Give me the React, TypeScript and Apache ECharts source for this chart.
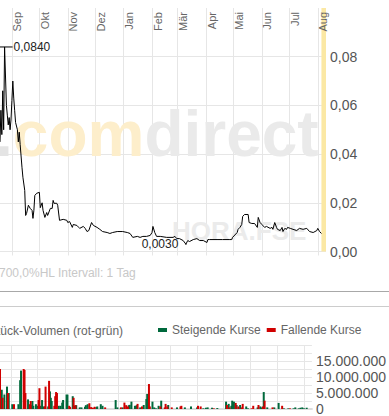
import React, { useEffect, useRef } from "react";
import * as echarts from "echarts";

// ---- axis categories (calendar days) ----
const startDay = "2022-08-19";
const endDay = "2023-08-10";
const monthNames = ["Jan", "Feb", "Mär", "Apr", "Mai", "Jun", "Jul", "Aug", "Sep", "Okt", "Nov", "Dez"];

// ---- price (EUR) ----
const priceDates = [
  "2022-08-19","2022-08-20","2022-08-21","2022-08-22","2022-08-23","2022-08-24","2022-08-26","2022-08-27","2022-08-28","2022-08-29",
  "2022-08-30","2022-08-31","2022-09-01","2022-09-02","2022-09-03","2022-09-04","2022-09-05","2022-09-07","2022-09-08","2022-09-09",
  "2022-09-10","2022-09-12","2022-09-13","2022-09-15","2022-09-16","2022-09-17","2022-09-19","2022-09-21","2022-09-23","2022-09-24",
  "2022-09-25","2022-09-26","2022-09-28","2022-10-01","2022-10-02","2022-10-04","2022-10-05","2022-10-07","2022-10-09","2022-10-10",
  "2022-10-13","2022-10-15","2022-10-16","2022-10-17","2022-10-20","2022-10-21","2022-10-23","2022-10-27","2022-10-31","2022-11-01",
  "2022-11-03","2022-11-06","2022-11-07","2022-11-11","2022-11-13","2022-11-14","2022-11-18","2022-11-20","2022-11-22","2022-11-24",
  "2022-11-27","2022-11-29","2022-12-03","2022-12-06","2022-12-09","2022-12-14","2022-12-17","2022-12-20","2022-12-25","2022-12-31",
  "2023-01-05","2023-01-08","2023-01-11","2023-01-16","2023-01-19","2023-01-22","2023-01-26","2023-01-30","2023-02-01","2023-02-02",
  "2023-02-04","2023-02-06","2023-02-10","2023-02-17","2023-02-24","2023-02-26","2023-02-28","2023-03-03","2023-03-07","2023-03-10",
  "2023-03-12","2023-03-14","2023-03-18","2023-03-22","2023-03-25","2023-03-29","2023-04-02","2023-04-03","2023-04-05","2023-04-13",
  "2023-04-19","2023-04-27","2023-04-29","2023-04-30","2023-05-05","2023-05-06","2023-05-08","2023-05-10","2023-05-11","2023-05-13",
  "2023-05-17","2023-05-18","2023-05-21","2023-05-24","2023-05-27","2023-05-28","2023-05-30","2023-06-01","2023-06-04","2023-06-06",
  "2023-06-10","2023-06-12","2023-06-13","2023-06-15","2023-06-17","2023-06-18","2023-06-21","2023-06-23","2023-06-24","2023-06-26",
  "2023-06-28","2023-06-29","2023-07-02","2023-07-05","2023-07-09","2023-07-12","2023-07-16","2023-07-20","2023-07-23","2023-07-27",
  "2023-07-31","2023-08-01","2023-08-03","2023-08-05"
];
const priceValues = [
  0.045,0.058,0.048,0.066,0.050,0.084,0.060,0.056,0.052,0.055,
  0.050,0.054,0.062,0.070,0.063,0.058,0.053,0.050,0.045,0.049,
  0.044,0.0346,0.0305,0.0251,0.0148,0.0156,0.019,0.0177,0.0169,0.0136,
  0.0169,0.023,0.0239,0.0243,0.018,0.020,0.0169,0.014,0.016,0.0148,
  0.0177,0.0177,0.021,0.0198,0.0198,0.019,0.0128,0.0132,0.0128,0.0119,
  0.0123,0.0099,0.0111,0.0107,0.0099,0.0095,0.0103,0.0095,0.0082,0.0086,
  0.0119,0.0107,0.0099,0.0091,0.0082,0.0078,0.0074,0.0078,0.0082,0.0082,
  0.0078,0.0074,0.0058,0.0062,0.0058,0.0062,0.0062,0.0066,0.0078,0.0103,
  0.0078,0.0062,0.0062,0.0058,0.0058,0.0062,0.0053,0.0053,0.0045,0.0030,
  0.0045,0.0041,0.0049,0.0053,0.0045,0.0045,0.0037,0.0049,0.0049,0.0049,
  0.0049,0.0049,0.0049,0.0058,0.0078,0.0091,0.0099,0.0111,0.0144,0.0152,
  0.0152,0.0119,0.0115,0.0115,0.0099,0.0140,0.0119,0.0111,0.0099,0.0103,
  0.0095,0.0099,0.0091,0.0119,0.0099,0.0091,0.0086,0.0099,0.0082,0.0095,
  0.0091,0.0099,0.0095,0.0091,0.0086,0.0095,0.0091,0.0095,0.0082,0.0078,
  0.0086,0.0095,0.0082,0.0074
];

// ---- volume: rising days (green) ----
const upDates = [
  "2022-08-21","2022-08-24","2022-08-27","2022-08-29","2022-09-02","2022-09-09","2022-09-11","2022-09-12","2022-09-20","2022-09-24",
  "2022-09-25","2022-09-26","2022-09-29","2022-10-01","2022-10-04","2022-10-06","2022-10-08","2022-10-13","2022-10-15","2022-10-16",
  "2022-10-17","2022-10-25","2022-10-27","2022-10-29","2022-10-30","2022-11-03","2022-11-04","2022-11-10","2022-11-12","2022-11-14",
  "2022-11-18","2022-11-20","2022-11-24","2022-11-25","2022-11-27","2022-12-07","2022-12-08","2022-12-12","2022-12-14","2022-12-29",
  "2022-12-31","2023-01-06","2023-01-13","2023-01-14","2023-01-16","2023-01-20","2023-01-21","2023-01-22","2023-01-26","2023-01-30",
  "2023-02-02","2023-02-03","2023-02-09","2023-02-11","2023-02-13","2023-02-16","2023-02-19","2023-02-27","2023-03-09","2023-03-18",
  "2023-03-25","2023-04-01","2023-04-08","2023-04-11","2023-04-13","2023-04-18","2023-04-24","2023-05-04","2023-05-07","2023-05-10",
  "2023-05-11","2023-05-13","2023-05-16","2023-05-20","2023-05-27","2023-05-29","2023-06-09","2023-06-12","2023-06-14","2023-06-16",
  "2023-06-20","2023-06-28","2023-07-03","2023-07-09","2023-07-14","2023-07-20","2023-07-22","2023-07-26","2023-07-28","2023-07-30",
  "2023-08-01","2023-08-04"
];
const upVolumes = [
  6000000,4500000,7000000,5000000,1500000,1500000,9000000,12000000,3000000,1200000,
  2500000,1000000,1500000,1000000,1000000,2800000,800000,800000,5500000,3500000,
  2500000,1000000,1000000,2000000,2800000,4500000,4500000,4000000,1000000,1200000,
  500000,500000,700000,1200000,1500000,600000,800000,1500000,1000000,2800000,
  500000,500000,1200000,1300000,2300000,1000000,800000,1200000,500000,1250000,
  3100000,4700000,2300000,500000,200000,1000000,2600000,1250000,500000,500000,
  800000,500000,200000,400000,500000,400000,300000,2300000,1600000,1000000,
  2600000,2300000,1250000,1250000,800000,200000,500000,800000,500000,5300000,
  500000,500000,1900000,200000,200000,200000,500000,200000,400000,500000,
  200000,400000
];

// ---- volume: falling days (red) ----
const downDates = [
  "2022-08-19","2022-08-22","2022-08-28","2022-09-04","2022-09-15","2022-09-16","2022-09-17","2022-09-22","2022-09-23","2022-10-02",
  "2022-10-03","2022-10-09","2022-10-10","2022-10-14","2022-10-20","2022-10-21","2022-10-22","2022-10-23","2022-11-06","2022-11-07",
  "2022-11-11","2022-11-13","2022-11-29","2022-12-01","2022-12-03","2022-12-05","2022-12-17","2023-01-04","2023-01-08","2023-01-10",
  "2023-01-12","2023-01-23","2023-01-28","2023-02-05","2023-02-06","2023-02-18","2023-02-23","2023-02-24","2023-02-26","2023-03-03",
  "2023-03-13","2023-03-14","2023-04-02","2023-04-05","2023-04-20","2023-05-05","2023-05-08","2023-05-15","2023-05-18","2023-05-22",
  "2023-05-23","2023-06-02","2023-06-04","2023-06-10","2023-06-15","2023-06-17","2023-06-26","2023-07-07","2023-07-16"
];
const downVolumes = [
  12500000,3500000,5000000,1500000,12500000,12200000,5000000,1500000,2500000,2800000,
  6500000,800000,7000000,8800000,1000000,4000000,5300000,5000000,1000000,600000,
  3500000,1200000,1800000,600000,400000,700000,500000,500000,2000000,1200000,
  800000,1600000,800000,7800000,800000,800000,500000,1600000,800000,500000,
  800000,1000000,1000000,800000,200000,1250000,500000,1900000,800000,500000,
  1600000,200000,1000000,1250000,800000,2600000,500000,1000000,200000
];

// ---- y-axis ticks ----
const priceAxisMax = 0.1;
const priceAxisStep = 0.02;
const volumeAxisMax = 20000000;
const volumeAxisStep = 2500000;
const volumeLabelStep = 5000000;

// ---- texts ----
const intervalNote = "700,0%HL Intervall: 1 Tag";
const volumeTitle = "Stück-Volumen (rot-grün)";
const seriesUp = "Steigende Kurse";
const seriesDown = "Fallende Kurse";
const todayBand = ["2023-08-05", "2023-08-10"];

const GRID = "#e6e6e6";
const GREEN = "#00693c";
const RED = "#d00000";
const YELLOW = "#fbe8a4";
const FONT = 'Arial, "Liberation Sans", sans-serif';

function buildDays(): string[] {
  const out: string[] = [];
  const d = new Date(startDay + "T00:00:00Z");
  const end = new Date(endDay + "T00:00:00Z");
  while (d.getTime() <= end.getTime()) {
    out.push(d.toISOString().slice(0, 10));
    d.setUTCDate(d.getUTCDate() + 1);
  }
  return out;
}

const isMonthStart = (_i: number, v: string) => typeof v === "string" && v.slice(8, 10) === "01";
const dotted = (v: number) => String(Math.round(v)).replace(/\B(?=(\d{3})+(?!\d))/g, ".");

export default function App() {
  const ref = useRef<HTMLDivElement>(null);
  useEffect(() => {
    if (!ref.current) return;
    const chart = echarts.init(ref.current, undefined, { renderer: "svg" });
    const days = buildDays();
    const option: any = {
      animation: false,
      textStyle: { fontFamily: FONT },
      legend: {
        data: [seriesUp, seriesDown],
        left: 158,
        top: 324,
        icon: "rect",
        itemWidth: 9,
        itemHeight: 4,
        itemGap: 6,
        padding: 0,
        selectedMode: false,
        textStyle: { fontSize: 12, color: "#666", fontFamily: FONT },
      },
      grid: [
        { left: 0, right: 63, top: 8, height: 243.5 },
        { left: 0, right: 63, top: 345, height: 64 },
      ],
      xAxis: [
        {
          gridIndex: 0, type: "category", data: days, position: "top", boundaryGap: false, z: 10,
          axisLine: { show: false }, axisTick: { show: false }, splitLine: { show: false },
          axisLabel: {
            inside: true, rotate: 90, interval: isMonthStart,
            formatter: (v: string) => monthNames[Number(v.slice(5, 7)) - 1],
            align: "right", verticalAlign: "top", margin: 4, fontSize: 11, color: "#666",
          },
        },
        {
          gridIndex: 0, type: "category", data: days, position: "bottom", boundaryGap: false,
          axisLine: { show: false },
          axisTick: { show: true, interval: isMonthStart, length: 4, lineStyle: { color: GRID } },
          splitLine: { show: true, interval: isMonthStart, lineStyle: { color: GRID } },
          axisLabel: { show: false },
        },
        {
          gridIndex: 1, type: "category", data: days, position: "bottom", boundaryGap: false,
          axisLine: { show: true, lineStyle: { color: "#dddddd", width: 2 } },
          axisTick: { show: false },
          splitLine: { show: true, interval: isMonthStart, lineStyle: { color: GRID } },
          axisLabel: { show: false },
        },
      ],
      yAxis: [
        {
          gridIndex: 0, type: "value", position: "right", min: 0, max: priceAxisMax, interval: priceAxisStep,
          axisLine: { show: false }, axisTick: { show: false },
          splitLine: { show: true, showMaxLine: false, lineStyle: { color: GRID } },
          axisLabel: {
            showMaxLabel: false, margin: 4, fontSize: 14, color: "#555", padding: [0, 0, 4, 0],
            formatter: (v: number) => (v >= priceAxisMax - 1e-9 ? "" : v.toFixed(2).replace(".", ",")),
          },
        },
        {
          gridIndex: 1, type: "value", position: "right", min: 0, max: volumeAxisMax, interval: volumeAxisStep,
          axisLine: { show: false }, axisTick: { show: false },
          splitLine: { show: true, lineStyle: { color: GRID } },
          axisLabel: {
            margin: 4, fontSize: 14, color: "#555",
            formatter: (v: number) =>
              v % volumeLabelStep === 0 && v < volumeAxisMax ? dotted(v) : "",
          },
        },
      ],
      graphic: [
        {
          type: "text", z: 1, silent: true,
          style: {
            x: -5, y: 134, verticalAlign: "middle",
            text: "{a|.}{b|com}{c|direct}",
            fontSize: 64, fontWeight: "bold", fontFamily: FONT,
            rich: {
              a: { fill: "#e4e4e4", fontSize: 64, fontWeight: "bold", fontFamily: FONT },
              b: { fill: "#fdeecb", fontSize: 64, fontWeight: "bold", fontFamily: FONT },
              c: { fill: "#eaeaea", fontSize: 64, fontWeight: "bold", fontFamily: FONT },
            },
          },
        },
        {
          type: "text", z: 1, silent: true,
          style: { x: 172, y: 231, verticalAlign: "middle", text: "HORA.FSE", fill: "#ebebeb", fontSize: 26, fontWeight: "bold", fontFamily: FONT },
        },
        {
          type: "text", silent: true,
          style: { x: -1, y: 273, verticalAlign: "middle", text: intervalNote, fill: "#c8c8c8", fontSize: 12, fontFamily: FONT },
        },
        { type: "line", silent: true, shape: { x1: 0, y1: 291.5, x2: 389, y2: 291.5 }, style: { stroke: "#a8a8a8", lineWidth: 1 } },
        { type: "line", silent: true, shape: { x1: 0, y1: 306.5, x2: 389, y2: 306.5 }, style: { stroke: "#cccccc", lineWidth: 1 } },
        {
          type: "text", silent: true,
          style: { x: -11, y: 331, verticalAlign: "middle", text: volumeTitle, fill: "#666", fontSize: 12, fontFamily: FONT },
        },
      ],
      series: [
        {
          type: "line", name: "Kurs", xAxisIndex: 1, yAxisIndex: 0,
          data: priceDates.map((d, i) => [d, priceValues[i]]),
          symbol: "none", lineStyle: { color: "#000", width: 1 }, itemStyle: { color: "#000" },
          z: 3,
          markPoint: {
            silent: true,
            data: [
              {
                type: "max", symbol: "rect", symbolSize: [14, 1], symbolOffset: [1, 0],
                itemStyle: { color: "#000" },
                label: {
                  show: true, position: "right", distance: 1, color: "#222", fontSize: 12,
                  formatter: (p: any) => Number(p.value).toFixed(4).replace(".", ","),
                },
              },
              {
                type: "min", symbol: "rect", symbolSize: [1, 1],
                itemStyle: { color: "#000" },
                label: {
                  show: true, position: "left", distance: 7, color: "#222", fontSize: 12,
                  formatter: (p: any) => Number(p.value).toFixed(4).replace(".", ","),
                },
              },
            ],
          },
          markArea: {
            silent: true, itemStyle: { color: YELLOW },
            data: [[{ xAxis: todayBand[0] }, { xAxis: todayBand[1] }]],
          },
        },
        {
          type: "bar", name: seriesUp, xAxisIndex: 2, yAxisIndex: 1,
          data: upDates.map((d, i) => [d, upVolumes[i]]),
          barWidth: 2, barGap: "-100%", itemStyle: { color: GREEN },
          markArea: {
            silent: true, itemStyle: { color: YELLOW },
            data: [[{ xAxis: todayBand[0] }, { xAxis: todayBand[1] }]],
          },
        },
        {
          type: "bar", name: seriesDown, xAxisIndex: 2, yAxisIndex: 1,
          data: downDates.map((d, i) => [d, downVolumes[i]]),
          barWidth: 2, barGap: "-100%", itemStyle: { color: RED },
        },
      ],
    };
    chart.setOption(option);
    return () => chart.dispose();
  }, []);
  return (
    <div
      ref={ref}
      style={{ position: "fixed", left: 0, top: 0, width: 389, height: 416, background: "#fff" }}
    />
  );
}
